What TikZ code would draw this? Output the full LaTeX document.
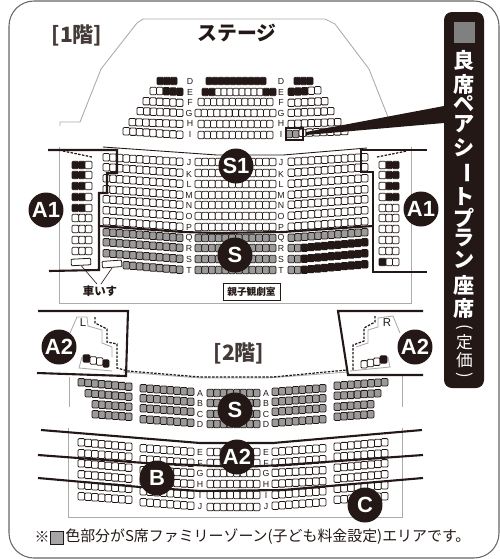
\documentclass[tikz,border=0pt]{standalone}
\usepackage{fontspec}
\setmainfont{Liberation Sans}
\newfontfamily\cjk{Noto Sans CJK JP}
\usetikzlibrary{calc}
\definecolor{ink}{HTML}{231815}
\definecolor{seatgray}{HTML}{9A9A9A}
\definecolor{plan}{HTML}{ABABAB}

% seats: left x, left y, right x, right y, how many, fill colour
\newcommand{\seatrow}[6]{%
	\foreach \k in {1,...,#5}{%
		\pgfmathsetmacro{\cx}{#1+(\k-0.5)*(#3-#1)/#5}
		\pgfmathsetmacro{\cy}{#2+(\k-0.5)*(#4-#2)/#5}
		\pgfmathsetmacro{\hw}{0.5*(#3-#1)/#5}
		\draw[seat,fill=#6] (\cx-\hw,\cy-3.7) rectangle (\cx+\hw,\cy+3.7);
	}%
}

\tikzset{
	seat/.style={draw=ink,line width=0.45pt,rounded corners=0.6pt},
	planline/.style={draw=plan,line width=0.5pt},
	border/.style={draw=ink,line width=1.2pt,line join=miter},
	dotline/.style={draw=ink,line width=0.7pt,dash pattern=on 1.4pt off 0.8pt},
	rowname/.style={font=\fontsize{5}{5}\selectfont,text=ink,inner sep=0pt},
	zone/.style={circle,fill=ink,text=white,minimum size=0.7cm,inner sep=0pt,font=\fontsize{12.5}{12.5}\selectfont\bfseries},
	title/.style={font=\cjk\fontsize{12}{12}\selectfont\bfseries,text=ink!85,inner sep=0pt},
	pairchar/.style={font=\cjk\fontsize{12}{12}\selectfont\bfseries,text=white,inner sep=0pt},
	pairsmall/.style={font=\cjk\fontsize{9.5}{9.5}\selectfont,text=white,inner sep=0pt},
	wheelbox/.style={draw=ink,fill=white,line width=0.45pt,rounded corners=0.5pt,minimum width=0.39cm,minimum height=0.13cm,inner sep=0pt},
}

\begin{document}
\begin{tikzpicture}[x=0.02cm,y=-0.02cm]
	\useasboundingbox (0,0) rectangle (500,559);
	\draw[draw=black!60,line width=0.6pt,rounded corners=0.5cm] (9,1) rectangle (499,558);

	% 1st floor outline
	\draw[planline] (60,126) -- (60,122) -- (80,122) -- (101,69) -- (137,23) -- (143,19) -- (325,19) -- (335,24) -- (369,69) -- (390,122) -- (411,122) -- (411,126);
	\draw[planline] (59,147) -- (59,303) -- (411,303) -- (411,147);
	\draw[draw=ink,line width=0.5pt] (103,147) -- (217,155) -- (283,155) -- (367,148);

	% stage block
	\seatrow{157}{81}{177}{81}{3}{ink}
	\seatrow{206}{81}{266}{81}{10}{ink}
	\seatrow{294}{81}{313}{81}{3}{ink}
	\seatrow{150}{91}{163}{91}{2}{white}
	\seatrow{163}{91}{183}{92}{3}{ink}
	\seatrow{202}{92}{215}{92}{2}{ink}
	\seatrow{215}{92}{263}{92}{8}{white}
	\seatrow{263}{92}{276}{92}{2}{ink}
	\seatrow{288}{92}{308}{91}{3}{ink}
	\seatrow{308}{91}{321}{90}{2}{white}
	\foreach \xa/\ya/\yb/\n in {143/101/103/6,137/111/113/7,129/122/124/8,123/131/135/9}
		{\seatrow{\xa}{\ya}{183}{\yb}{\n}{white}}
	\foreach \yy/\xa/\xb/\n in {102/198/273/12,113/195/276/13,124/198/273/12,135/198/273/12}
		{\seatrow{\xa}{\yy}{\xb}{\yy}{\n}{white}}
	\foreach \xb/\ya/\yb/\n in {328/103/101/6,334/113/111/7,341/124/122/8}
		{\seatrow{288}{\ya}{\xb}{\yb}{\n}{white}}
	\seatrow{286}{134}{299}{134}{2}{seatgray}
	\seatrow{299}{133}{348}{131}{7}{white}

	% main block, left / centre / right
	\foreach \ya/\yb in {157/162,167/173,178/184,189/195,199/205,210/216,221/227}
		{\seatrow{103}{\ya}{183}{\yb}{12}{white}
		 \seatrow{195}{\yb}{276}{\yb}{12}{white}
		 \seatrow{288}{\yb}{368}{\ya}{12}{white}}
	\foreach \ya/\yb in {232/238,242/248,253/259}
		{\seatrow{103}{\ya}{183}{\yb}{12}{seatgray}
		 \seatrow{195}{\yb}{276}{\yb}{12}{seatgray}}
	\seatrow{123}{265}{183}{270}{9}{seatgray}
	\seatrow{195}{270}{276}{270}{12}{seatgray}
	\seatrow{288}{238}{368}{232}{12}{seatgray}
	\foreach \ya/\yb in {248/242,259/253,270/264}
		{\seatrow{288}{\ya}{301}{\ya}{2}{seatgray}
		 \seatrow{301}{\ya}{368}{\yb}{10}{ink}}

	% side blocks
	\foreach \yy in {165,175,186,197,208}
		{\seatrow{72}{\yy}{85}{\yy}{2}{ink}
		 \seatrow{85}{\yy}{92}{\yy}{1}{white}}
	\foreach \yy in {218,229,240,251}
		{\seatrow{72}{\yy}{92}{\yy}{3}{white}}
	\foreach \yy in {165,175,186,197}
		{\seatrow{379}{\yy}{386}{\yy}{1}{white}
		 \seatrow{386}{\yy}{399}{\yy}{2}{ink}}
	\foreach \yy in {208,218,229,240,251}
		{\seatrow{379}{\yy}{399}{\yy}{3}{white}}
	\seatrow{379}{262}{386}{262}{1}{ink}
	\seatrow{386}{262}{399}{262}{2}{white}

	\node[rowname] (rowD) at (190,81) {D};
	\node[rowname] (rowE) at (190,92) {E};
	\node[rowname] (rowF) at (190,102) {F};
	\node[rowname] (rowG) at (189,113) {G};
	\node[rowname] (rowH) at (190,123) {H};
	\node[rowname] (rowI) at (190,134) {I};
	\node[rowname] (rowDr) at (281,81) {D};
	\node[rowname] (rowEr) at (281,92) {E};
	\node[rowname] (rowFr) at (281,102) {F};
	\node[rowname] (rowGr) at (281,113) {G};
	\node[rowname] (rowHr) at (281,123) {H};
	\node[rowname] (rowIr) at (281,134) {I};
	\foreach \nm/\yy in {J/163,K/174,L/184,M/195,N/205,O/216,P/227,Q/238,R/248,S/259,T/270}
		{\node[rowname] (row\nm) at (189,\yy) {\nm};
		 \node[rowname] (row\nm r) at (281,\yy) {\nm};}

	\draw[dotline] (63,151) -- (92,157);
	\draw[dotline] (377,157) -- (407,151);

	% borders of 1st floor
	\draw[border] (48,150) -- (117,150) -- (117,173) -- (107,173) -- (107,193) -- (99,193) -- (99,270) -- (49,271);
	\draw[border] (99,226) -- (183,232) -- (217,233) -- (283,232) -- (373,226);
	\draw[border] (427,150) -- (361,150) -- (361,172) -- (373,172) -- (373,272) -- (427,272);

	% wheelchair spaces
	\node[wheelbox,rotate=3] (wheelL) at (81,262) {};
	\node[wheelbox,rotate=4] (wheelT) at (112,264) {};
	\node[font=\cjk\fontsize{6.5}{6.5}\selectfont\bfseries,text=ink,inner sep=0pt] (wheelTxt) at (100,291) {車いす};
	\coordinate (wheelA) at (97,284);
	\coordinate (wheelB) at (101,284);
	\draw[draw=ink,line width=0.35pt] (wheelL.south) -- (wheelA);
	\draw[draw=ink,line width=0.35pt] (wheelT.south) -- (wheelB);
	\node[draw=ink,line width=0.5pt,fill=white,minimum width=1.14cm,minimum height=0.34cm,inner sep=0pt,font=\cjk\fontsize{5.5}{5.5}\selectfont\bfseries,text=ink] (parent) at (251.5,291.5) {親子観劇室};

	% 2nd floor outline
	\draw[planline] (69,377) -- (69,407);
	\draw[planline] (68,428) -- (68,517) -- (402,517) -- (402,428);
	\draw[planline] (402,407) -- (402,376);
	\draw[planline] (123,372) -- (200,378) -- (267,378) -- (348,372);
	\draw[planline] (70,333) -- (77,317) -- (87,317) -- (88,326) -- (102,330) -- (102,343) -- (112,347) -- (112,357);
	\draw[planline] (82,357) -- (79,368) -- (112,371);
	\draw[planline] (400,333) -- (393,316) -- (378,318) -- (378,327) -- (368,330) -- (368,343) -- (356,347);
	\draw[planline] (388,357) -- (390,367) -- (350,371);

	\draw[dotline] (95,317) -- (95,323) -- (107,329) -- (107,342) -- (117,344) -- (117,368) -- (128,371) -- (200,377) -- (273,377) -- (347,370);
	\draw[dotline] (375,316) -- (375,322) -- (364,328) -- (364,341) -- (353,345) -- (353,370);

	% box seats
	\seatrow{83}{358}{90}{359}{1}{ink}
	\seatrow{90}{360}{103}{362}{2}{white}
	\seatrow{103}{363}{109}{364}{1}{ink}
	\seatrow{361}{365}{380}{361}{3}{white}
	\seatrow{380}{360}{387}{359}{1}{ink}
	\node[rowname,font=\fontsize{6.5}{6.5}\selectfont] (boxL) at (83,323) {L};
	\node[rowname,font=\fontsize{6.5}{6.5}\selectfont] (boxR) at (387,323) {R};

	% gray rows A-D
	\foreach \xa/\ya/\yb/\n in {78/382/387/8,85/393/397/7,92/404/407/6,92/414/417/6}
		{\seatrow{\xa}{\ya}{132}{\yb}{\n}{seatgray}}
	\foreach \ya/\yb/\yc in {388/392/393,398/402/403,408/412/414,419/423/424}
		{\seatrow{140}{\ya}{194}{\yb}{8}{seatgray}
		 \seatrow{207}{\yc}{260}{\yc}{8}{seatgray}
		 \seatrow{272}{\yb}{326}{\ya}{8}{seatgray}}
	\foreach \xb/\ya/\yb/\n in {388/386/382/8,381/396/393/7,374/407/404/6,374/417/414/6}
		{\seatrow{334}{\ya}{\xb}{\yb}{\n}{seatgray}}

	% white rows E-J
	\foreach \ya/\yb/\yc/\yd/\ye in {442/447/448/452/452,453/457/459/463/463,463/468/470/473/473,474/479/481/484/484,485/489/491/495/495,496/500/502/506/507}
		{\seatrow{78}{\ya}{132}{\yb}{8}{white}
		 \seatrow{140}{\yc}{194}{\yd}{8}{white}
		 \seatrow{207}{\ye}{260}{\ye}{8}{white}
		 \seatrow{272}{\yd}{326}{\yc}{8}{white}
		 \seatrow{334}{\yb}{388}{\ya}{8}{white}}

	\foreach \nm/\yy in {A/393,B/403,C/414,D/424,E/452,F/463,G/473,H/484,I/495,J/507}
		{\node[rowname] (up\nm) at (200,\yy) {\nm};
		 \node[rowname] (up\nm r) at (266,\yy) {\nm};}

	% borders of 2nd floor
	\draw[border] (38,311) -- (128,311) -- (126,376) -- (37,373);
	\draw[border] (423,311) -- (338,311) -- (348,375) -- (423,375);
	\draw[border] (41,430) -- (200,443) -- (273,443) -- (422,430);
	\draw[border] (38,455) -- (145,463) -- (240,467) -- (283,465) -- (423,455);
	\draw[border] (38,478) -- (140,487) -- (200,491) -- (283,490) -- (423,478);

	% headings
	\node[title] (floor1) at (77,35) {[1階]};
	\node[title,text=ink,font=\cjk\fontsize{11.3}{11.3}\selectfont\bfseries] (stage) at (237,33) {ステージ};
	\node[title] (floor2) at (239,353) {[2階]};

	% zones
	\node[zone] (s1) at (236,166) {S1};
	\node[zone] (a1l) at (46,210) {A1};
	\node[zone] (a1r) at (421,209) {A1};
	\node[zone] (s) at (235,255) {S};
	\node[zone] (a2l) at (59,347) {A2};
	\node[zone] (a2r) at (415,347) {A2};
	\node[zone] (s2) at (235,410) {S};
	\node[zone] (a2m) at (237,457) {A2};
	\node[zone] (b) at (157,478) {B};
	\node[zone] (c) at (365,505) {C};

	% pair seat plan
	\fill[ink] (444,106) -- (444,123) -- (306,135) -- (306,132) -- cycle;
	\draw[draw=ink,line width=0.6pt] (286,128) rectangle (303,140);
	\fill[ink,rounded corners=0.16cm] (444,12) rectangle (484,388);
	\fill[black!50] (454,22) rectangle (475,43);
	\foreach \ch/\yy [count=\r] in {良/60,席/84,ペ/104,ア/124,シ/148,ト/197,プ/218,ラ/238,ン/260,座/285,席/308}
		{\node[pairchar] (pair\r) at (464.5,\yy) {\ch};}
	\node[pairchar,rotate=-90] (pairbar) at (464.5,173) {ー};
	\node[pairsmall,rotate=-90] (pairopen) at (464.5,327) {(};
	\node[pairsmall] (pairfix) at (464.5,342) {定};
	\node[pairsmall] (pairval) at (464.5,360) {価};
	\node[pairsmall,rotate=-90] (pairclose) at (464.5,375) {)};

	% footnote
	\node[font=\cjk\fontsize{8.5}{8.5}\selectfont,text=ink,inner sep=0pt] (mark) at (42,537) {※};
	\draw[draw=ink,line width=0.5pt,fill=black!35] (50,531) rectangle (63,544);
	\node[anchor=west,font=\cjk\fontsize{8.5}{8.5}\selectfont,text=ink,inner sep=0pt] (note) at (65,537) {色部分がS席ファミリーゾーン(子ども料金設定)エリアです。};
\end{tikzpicture}
\end{document}
